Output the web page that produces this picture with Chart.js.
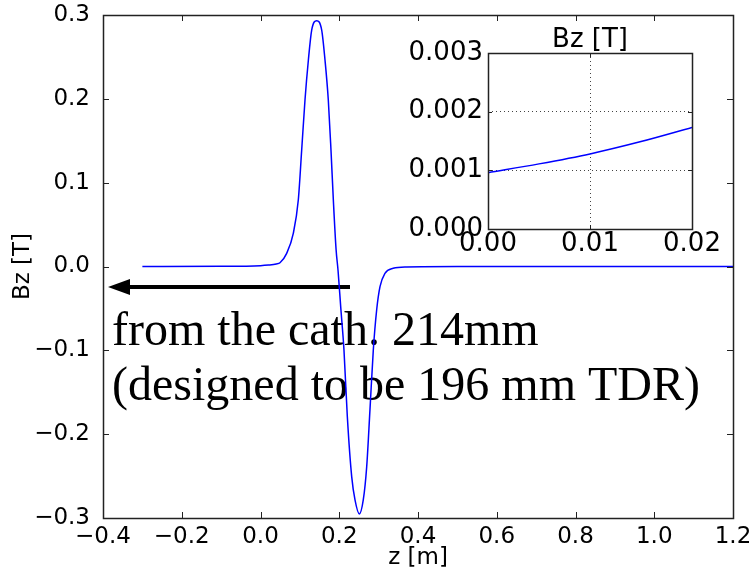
<!DOCTYPE html>
<html>
<head>
<meta charset="utf-8">
<script src="https://cdn.jsdelivr.net/npm/chart.js@4"></script>
<style>
  html, body { margin: 0; padding: 0; background: #fff; overflow: hidden; }
  #wrap { position: relative; width: 749px; height: 576px; overflow: hidden; }
  #mainChart { position: absolute; left: 0; top: 0; }
  #insetChart { position: absolute; left: 380px; top: 0; }
</style>
</head>
<body>
<div id="wrap">
  <canvas id="mainChart" width="749" height="576"></canvas>
  <canvas id="insetChart" width="369" height="270"></canvas>
</div>
<script>
// main curve: Bz along z
const zMain  = [-0.3, -0.1, 0.0, 0.02, 0.04, 0.0495, 0.0665, 0.0833, 0.096, 0.1046, 0.113, 0.1216, 0.130, 0.1427,
                0.1554, 0.1638, 0.1722, 0.179, 0.185, 0.192, 0.197, 0.204, 0.212, 0.2205, 0.2316, 0.24, 0.251,
                0.261, 0.2697, 0.278, 0.2865, 0.295, 0.3035, 0.316, 0.337, 0.371, 0.5, 1.2];
const bzMain = [0.0, 0.0002, 0.001, 0.0017, 0.003, 0.0045, 0.0157, 0.0396, 0.0793, 0.139, 0.1986, 0.2463, 0.282, 0.2932,
                0.282, 0.2463, 0.1986, 0.139, 0.0793, 0.02, -0.005, -0.05, -0.0996, -0.179, -0.2507, -0.2785, -0.2952,
                -0.2785, -0.2388, -0.171, -0.0996, -0.0519, -0.0241, -0.0081, -0.0021, -0.0005, 0.0, 0.0];
const xTicksMain = [-0.4, -0.2, 0.0, 0.2, 0.4, 0.6, 0.8, 1.0, 1.2];
const yTicksMain = [-0.3, -0.2, -0.1, 0.0, 0.1, 0.2, 0.3];

// inset: zoom on the cathode region
const zInset  = [0.0, 0.005, 0.01, 0.015, 0.02];
const bzInset = [0.00096, 0.00111, 0.00128, 0.00149, 0.00173];
const xTicksInset = [0.0, 0.01, 0.02];
const yTicksInset = [0.0, 0.001, 0.002, 0.003];

const noteLines = ['from the cath. 214mm', '(designed to be 196 mm TDR)'];
const insetTitle = 'Bz [T]';

const fmt = (v, d) => v.toFixed(d).replace('-', '\u2212');
const tickFont = size => ({ family: '"DejaVu Sans"', size: size });

// box round the plot area plus inward tick marks on all four sides
const frameTicks = {
  id: 'frameTicks',
  afterDatasetsDraw(chart, args, opts) {
    const { ctx, chartArea: a, scales: { x, y } } = chart;
    const L = opts.len || 5;
    ctx.save();
    ctx.strokeStyle = '#222';
    ctx.lineWidth = 1;
    ctx.beginPath();
    x.ticks.forEach(t => {
      const px = Math.round(x.getPixelForValue(t.value)) + 0.5;
      ctx.moveTo(px, a.bottom); ctx.lineTo(px, a.bottom - L);
      ctx.moveTo(px, a.top); ctx.lineTo(px, a.top + L);
    });
    y.ticks.forEach(t => {
      const py = Math.round(y.getPixelForValue(t.value)) + 0.5;
      ctx.moveTo(a.left, py); ctx.lineTo(a.left + L, py);
      ctx.moveTo(a.right, py); ctx.lineTo(a.right - L, py);
    });
    ctx.stroke();
    ctx.lineWidth = 1.5;
    ctx.strokeRect(Math.round(a.left) + 0.5, Math.round(a.top) + 0.5,
                   Math.round(a.width), Math.round(a.height));
    if (opts.title) {
      ctx.fillStyle = '#000';
      ctx.font = opts.titleFont;
      ctx.textAlign = 'center';
      ctx.textBaseline = 'alphabetic';
      ctx.fillText(opts.title, (a.left + a.right) / 2, a.top - 6);
    }
    ctx.restore();
  }
};

// arrow and note text, placed in data units
const note = {
  id: 'note',
  beforeDatasetsDraw(chart) {
    const { ctx, scales: { x, y } } = chart;
    const x0 = x.getPixelForValue(0.2273);
    const x1 = x.getPixelForValue(-0.3873);
    const ya = y.getPixelForValue(-0.0245);
    ctx.save();
    ctx.strokeStyle = '#000';
    ctx.fillStyle = '#000';
    ctx.lineWidth = 4;
    ctx.beginPath();
    ctx.moveTo(x0, ya);
    ctx.lineTo(x1 + 18, ya);
    ctx.stroke();
    ctx.beginPath();
    ctx.moveTo(x1, ya);
    ctx.lineTo(x1 + 22, ya - 8);
    ctx.lineTo(x1 + 22, ya + 8);
    ctx.closePath();
    ctx.fill();

    ctx.font = '48px "Liberation Serif"';
    ctx.textBaseline = 'alphabetic';
    ctx.textAlign = 'left';
    const tx = x.getPixelForValue(-0.377);
    ctx.fillText(noteLines[0], tx, y.getPixelForValue(-0.0936));
    ctx.fillText(noteLines[1], tx, y.getPixelForValue(-0.159));
    ctx.restore();
  }
};

function pts(xs, ys) {
  return xs.map((v, i) => ({ x: v, y: ys[i] }));
}

new Chart(document.getElementById('mainChart'), {
  type: 'scatter',
  data: {
    datasets: [{
      data: pts(zMain, bzMain),
      showLine: true,
      borderColor: '#0000ff',
      borderWidth: 1.5,
      pointRadius: 0,
      cubicInterpolationMode: 'monotone'
    }]
  },
  options: {
    responsive: false,
    animation: false,
    events: [],
    layout: { padding: { top: 15, right: 16, left: 0, bottom: 0 } },
    plugins: { legend: { display: false }, tooltip: { enabled: false }, frameTicks: { len: 6 } },
    scales: {
      x: {
        type: 'linear', min: -0.4, max: 1.2,
        afterBuildTicks: s => { s.ticks = xTicksMain.map(v => ({ value: v })); },
        afterFit: s => { s.height = 58; s.paddingLeft = 0; s.paddingRight = 0; },
        grid: { display: false },
        border: { display: false },
        ticks: { color: '#000', font: tickFont(23), padding: -3, maxRotation: 0, autoSkip: false,
                 callback: v => fmt(v, 1) },
        title: { display: true, text: 'z [m]', color: '#000', font: tickFont(23), padding: { bottom: 4, top: 0 } }
      },
      y: {
        type: 'linear', min: -0.3, max: 0.3,
        afterBuildTicks: s => { s.ticks = yTicksMain.map(v => ({ value: v })); },
        afterFit: s => { s.width = 103; s.paddingTop = 0; s.paddingBottom = 0; },
        grid: { display: false },
        border: { display: false },
        ticks: { color: '#000', font: tickFont(23), padding: 5, autoSkip: false,
                 callback: v => fmt(v, 1) },
        title: { display: true, text: 'Bz [T]', color: '#000', font: tickFont(23), padding: { top: 9, bottom: 0 } }
      }
    }
  },
  plugins: [frameTicks, note]
});

// white backing for the inset plot area
const insetBg = {
  id: 'insetBg',
  beforeDraw(chart) {
    const { ctx, chartArea: a } = chart;
    ctx.save();
    ctx.fillStyle = '#fff';
    ctx.fillRect(a.left, a.top, a.width, a.height);
    ctx.restore();
  }
};

new Chart(document.getElementById('insetChart'), {
  type: 'scatter',
  data: {
    datasets: [{
      data: pts(zInset, bzInset),
      showLine: true,
      borderColor: '#0000ff',
      borderWidth: 1.5,
      pointRadius: 0,
      cubicInterpolationMode: 'monotone'
    }]
  },
  options: {
    responsive: false,
    animation: false,
    events: [],
    layout: { padding: { top: 53, right: 57, left: 0, bottom: 0 } },
    plugins: {
      legend: { display: false },
      tooltip: { enabled: false },
      frameTicks: { len: 4, title: insetTitle, titleFont: '26px "DejaVu Sans"' }
    },
    scales: {
      x: {
        type: 'linear', min: 0, max: 0.02,
        afterBuildTicks: s => { s.ticks = xTicksInset.map(v => ({ value: v })); },
        afterFit: s => { s.height = 41; s.paddingLeft = 0; s.paddingRight = 0; },
        grid: { color: '#444', drawTicks: false },
        border: { display: false, dash: [1, 3] },
        ticks: { color: '#000', font: tickFont(26), padding: 0, maxRotation: 0, autoSkip: false,
                 callback: v => fmt(v, 2) }
      },
      y: {
        type: 'linear', min: 0, max: 0.003,
        afterBuildTicks: s => { s.ticks = yTicksInset.map(v => ({ value: v })); },
        afterFit: s => { s.width = 108; s.paddingTop = 0; s.paddingBottom = 0; },
        grid: { color: '#444', drawTicks: false },
        border: { display: false, dash: [1, 3] },
        ticks: { color: '#000', font: tickFont(26), padding: 5, autoSkip: false,
                 callback: v => fmt(v, 3) }
      }
    }
  },
  plugins: [insetBg, frameTicks]
});
</script>
</body>
</html>
